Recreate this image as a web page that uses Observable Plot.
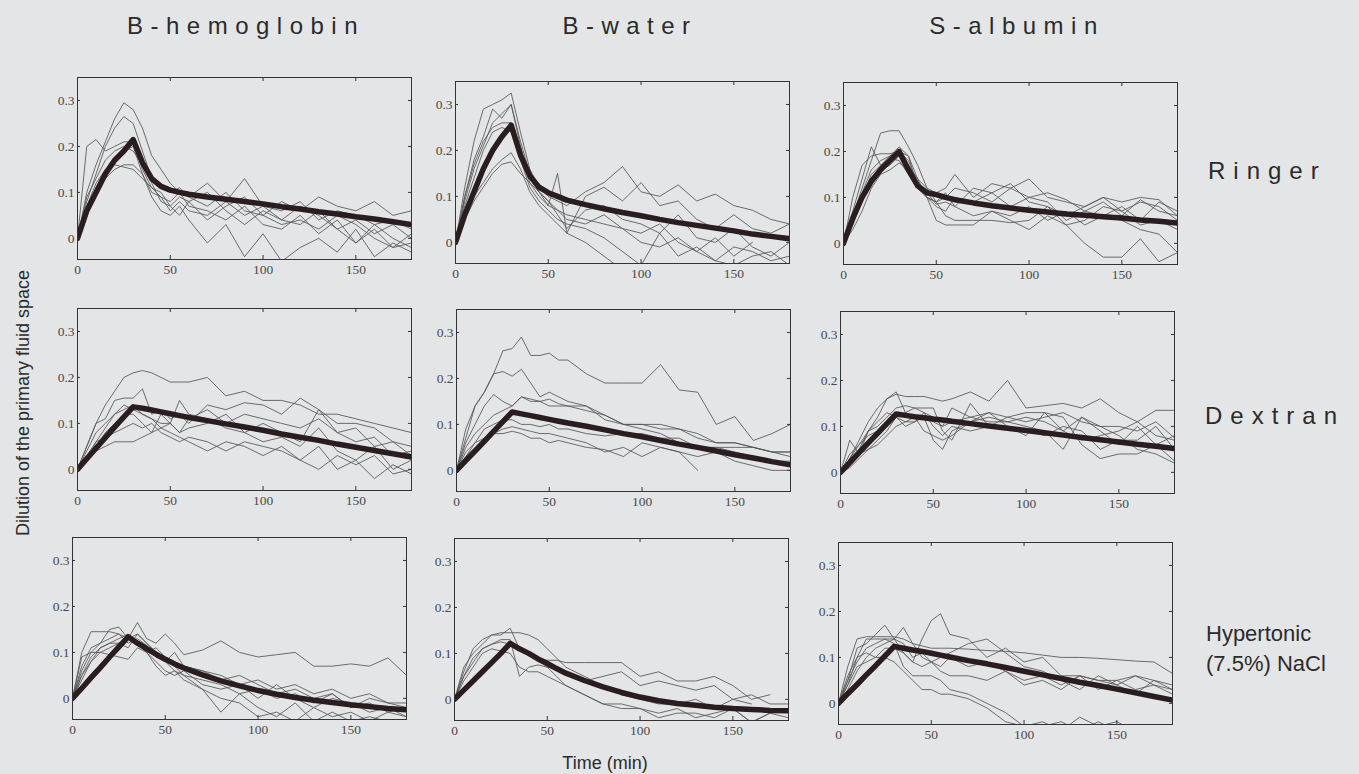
<!DOCTYPE html>
<html><head><meta charset="utf-8">
<script src="https://cdn.jsdelivr.net/npm/d3@7"></script>
<script src="https://cdn.jsdelivr.net/npm/@observablehq/plot@0.6"></script>
<style>
html,body{margin:0;padding:0;background:#e4e5e7;}
#page{position:relative;width:1359px;height:774px;overflow:hidden;font-family:"Liberation Sans",Arial,sans-serif;color:#2b2b2b;}
.lbl{position:absolute;white-space:nowrap;line-height:1;}
.ttl{font-size:24px;letter-spacing:7.5px;}
.row{font-size:24px;letter-spacing:8px;}
.panel{position:absolute;}
.panel svg text{font-size:13.5px !important;font-family:"Liberation Serif","DejaVu Serif",serif !important;fill:#4a4a4a;}
</style></head><body><div id="page"></div>
<script>
// ---------- data ----------
const times = [0,5,10,15,20,25,30,35,40,45,50,55,60,70,80,90,100,110,120,130,140,150,160,170,180];
const xTicks = [0,50,100,150];
const yTicks = [0,0.1,0.2,0.3];
const columnTitles = ["B-hemoglobin","B-water","S-albumin"];
const rowTitles = ["Ringer","Dextran","Hypertonic\n(7.5%) NaCl"];
const yLabel = "Dilution of the primary fluid space";
const xLabel = "Time (min)";

// Ringer
const hbRinger = [
 [0,.10,.16,.21,.26,.295,.28,.24,.18,.15,.12,.10,.09,.07,.10,.06,.05,.03,.04,.02,.05,.03,.00,-.02,-.01],
 [0,.08,.14,.20,.24,.265,.25,.19,.13,.11,.10,.11,.09,.12,.08,.13,.07,.06,.08,.04,.06,.05,.03,.04,.02],
 [0,.20,.215,.19,.20,.21,.21,.15,.11,.09,.08,.10,.07,.06,.04,.07,.03,.02,.05,.01,.04,-.01,.02,-.02,.01],
 [0,.06,.11,.15,.17,.19,.20,.14,.09,.06,.05,.07,.04,-.01,.03,-.04,.01,-.05,-.02,.00,-.03,.02,-.04,-.01,-.03],
 [0,.05,.10,.13,.15,.16,.16,.14,.10,.09,.06,.08,.06,.05,.08,.05,.07,.04,.03,.06,.02,.04,.01,.03,.00],
 [0,.07,.12,.15,.16,.155,.15,.13,.11,.10,.07,.05,.08,.10,.06,.03,.06,.04,.07,.05,.02,-.01,.03,.00,-.02],
 [0,.09,.13,.17,.19,.20,.19,.16,.12,.08,.07,.09,.08,.04,.07,.09,.05,.08,.06,.09,.07,.06,.08,.05,.06]
];
const hbRingerModel = [0,.06,.10,.14,.17,.19,.215,.165,.13,.113,.105,.10,.096,.09,.085,.08,.075,.069,.064,.058,.053,.047,.042,.036,.03];

const bwRinger = [
 [0,.12,.22,.29,.30,.31,.325,.24,.16,.12,.10,.09,.08,.11,.13,.165,.11,.10,.125,.09,.105,.08,.07,.05,.04],
 [0,.10,.18,.23,.29,.27,.30,.22,.15,.11,.08,.15,.02,.10,.12,.09,.13,.08,.09,.05,.03,.06,.03,.02,.04],
 [0,.09,.16,.21,.26,.28,.30,.21,.14,.11,.09,.06,.03,.07,.08,.05,.04,.02,.06,.01,.00,.03,-.01,-.03,.00],
 [0,.08,.14,.20,.24,.25,.24,.18,.12,.09,.07,.05,.04,.03,.01,-.02,-.05,.02,-.03,-.01,-.04,-.05,-.03,-.02,-.05],
 [0,.06,.10,.13,.16,.18,.195,.16,.11,.08,.06,.04,.02,.00,-.03,-.06,-.08,-.07,-.06,-.08,-.07,-.06,-.08,-.07,-.06],
 [0,.05,.09,.12,.15,.17,.175,.15,.13,.11,.09,.07,.06,.05,.04,.03,.00,-.01,.01,-.02,-.04,-.01,-.02,-.04,-.03],
 [0,.10,.17,.22,.25,.26,.26,.20,.13,.10,.08,.07,.05,.04,.06,.03,.02,.04,.00,-.02,.01,-.03,.00,null,null]
];
const bwRingerModel = [0,.06,.11,.16,.20,.23,.255,.19,.145,.12,.108,.10,.092,.082,.073,.065,.058,.05,.043,.037,.031,.025,.018,.013,.008];

const saRinger = [
 [0,.06,.12,.18,.24,.245,.245,.21,.17,.12,.09,.06,.05,.05,.05,.045,.05,.08,.04,.00,-.03,-.03,.01,-.04,-.02],
 [0,.07,.14,.21,.17,.19,.21,.19,.14,.12,.11,.12,.15,.10,.13,.12,.14,.10,.09,.08,.10,.09,.10,.095,.06],
 [0,.10,.17,.19,.195,.195,.20,.18,.13,.10,.09,.11,.08,.12,.11,.13,.09,.08,.06,.08,.10,.07,.09,.08,.05],
 [0,.05,.10,.15,.17,.185,.18,.15,.12,.10,.08,.07,.10,.09,.11,.08,.10,.09,.05,.07,.06,.08,.05,.09,.07],
 [0,.03,.07,.12,.15,.16,.175,.16,.13,.11,.085,.09,.08,.06,.07,.06,.08,.05,.07,.04,.06,.05,.03,.02,-.02],
 [0,.04,.09,.14,.16,.17,.19,.17,.14,.10,.05,.04,.04,.04,.07,.05,.03,.06,.04,.05,.08,.07,.04,.05,.03],
 [0,.06,.11,.16,.18,.19,.20,.19,.12,.10,.09,.10,.12,.11,.09,.12,.10,.11,.095,.07,.09,.06,.095,.07,.06]
];
const saRingerModel = [0,.055,.10,.135,.16,.18,.20,.16,.125,.11,.106,.10,.095,.088,.082,.077,.072,.068,.064,.061,.058,.055,.051,.048,.044];

// Dextran
const hbDextran = [
 [0,.05,.10,.14,.17,.20,.21,.215,.21,.20,.19,.19,.19,.20,.16,.17,.15,.15,.14,.12,.12,.11,.10,.09,.08],
 [0,.05,.10,.11,.15,.155,.155,.175,.12,.13,.11,.12,.10,.14,.13,.145,.14,.12,.155,.13,.10,.10,.09,.06,.05],
 [0,.02,.06,.09,.12,.14,.13,.12,.11,.10,.10,.15,.12,.11,.09,.08,.10,.08,.06,.13,.08,.06,.07,.03,.04],
 [0,.02,.05,.08,.10,.12,.12,.10,.08,.12,.10,.08,.09,.10,.12,.08,.06,.07,.05,.09,.04,.02,.05,.00,.02],
 [0,.03,.06,.07,.08,.09,.10,.09,.10,.08,.07,.06,.07,.06,.04,.06,.05,.04,.02,.05,.00,.02,-.02,.01,-.01],
 [0,.02,.04,.05,.06,.06,.06,.07,.08,.09,.08,.07,.06,.04,.06,.05,.03,.05,.02,.00,.03,.01,.03,-.01,.00],
 [0,.04,.08,.10,.12,.13,.14,.12,.11,.09,.10,.08,.11,.13,.10,.12,.11,.10,.09,.11,.08,.09,.05,.06,.03]
];
const hbDextranModel = [0,.023,.046,.069,.092,.114,.136,.133,.129,.125,.121,.117,.113,.106,.099,.092,.085,.077,.070,.063,.055,.048,.041,.034,.027];

const bwDextran = [
 [0,.07,.14,.17,.21,.26,.265,.29,.25,.25,.255,.24,.24,.21,.19,.19,.19,.23,.175,.17,.10,.117,.065,.08,.10],
 [0,.09,.14,.17,.21,.215,.205,.22,.19,.16,.17,.16,.15,.14,.11,.10,.10,.10,.09,.07,.06,.06,.05,.04,.04],
 [0,.06,.10,.14,.165,.15,.14,.16,.155,.15,.14,.14,.14,.14,.12,.10,.09,.08,.06,.05,.05,.04,.03,.02,.02],
 [0,.05,.08,.10,.12,.13,.14,.16,.15,.15,.155,.145,.14,.13,.12,.10,.10,.09,.09,.08,.06,.06,.05,.04,.04],
 [0,.04,.06,.09,.10,.11,.11,.10,.10,.095,.10,.09,.09,.08,.075,.08,.08,.07,.07,.05,.05,.05,.05,.04,.03],
 [0,.03,.05,.07,.08,.09,.095,.09,.085,.08,.08,.075,.07,.06,.04,.05,.03,.05,.04,.00,null,null,null,null,null],
 [0,.03,.06,.07,.08,.08,.085,.08,.07,.07,.06,.065,.06,.05,.045,.03,.06,.05,.04,.03,.04,.02,.01,.00,.00]
];
const bwDextranModel = [0,.021,.042,.063,.085,.106,.127,.123,.119,.115,.111,.107,.103,.096,.088,.080,.073,.065,.057,.050,.042,.034,.027,.019,.012];

const saDextran = [
 [0,.03,.07,.11,.14,.16,.17,.165,.165,.165,.16,.155,.16,.175,.155,.20,.14,.145,.15,.14,.16,.13,.11,.135,.135],
 [0,.07,.04,.09,.12,.16,.175,.13,.14,.13,.12,.10,.14,.12,.13,.12,.11,.12,.13,.11,.10,.10,.09,.11,.075],
 [0,.02,.05,.09,.10,.12,.14,.145,.14,.14,.14,.09,.07,.15,.10,.12,.13,.13,.09,.07,.08,.09,.11,.08,.07],
 [0,.03,.06,.09,.11,.13,.12,.10,.11,.12,.07,.05,.09,.11,.13,.10,.08,.13,.12,.06,.03,.04,.04,.06,.025],
 [0,.01,.03,.05,.07,.09,.12,.13,.12,.09,.08,.07,.08,.11,.12,.11,.10,.09,.05,.12,.09,.06,.10,.06,.08],
 [0,.04,.06,.08,.09,.10,.12,.11,.11,.13,.10,.08,.10,.09,.10,.10,.09,.08,.10,.09,.05,.07,.07,.10,.05],
 [0,.02,.04,.05,.06,.08,.10,.11,.12,.12,.11,.10,.11,.12,.11,.11,.12,.11,.09,.12,.10,.08,.05,.04,.02]
];
const saDextranModel = [0,.021,.043,.064,.085,.106,.127,.124,.121,.119,.116,.114,.111,.106,.101,.096,.091,.086,.081,.076,.071,.066,.061,.057,.052];

// Hypertonic (7.5%) NaCl
const hbHyper = [
 [0,.10,.145,.145,.145,.14,.13,.165,.13,.12,.14,.12,.095,.105,.125,.10,.09,.095,.10,.07,.07,.075,.07,.088,.05],
 [0,.07,.11,.12,.15,.155,.13,.12,.10,.08,.06,.05,.06,.03,.02,.03,.00,.03,.00,-.02,.00,-.01,-.03,-.02,-.04],
 [0,.09,.10,.10,.095,.09,.085,.11,.10,.07,.05,.06,.04,.02,-.03,.01,-.02,-.04,-.01,-.05,-.03,-.05,-.04,-.05,-.05],
 [0,.05,.08,.11,.12,.12,.11,.14,.12,.10,.09,.07,.05,.04,.03,.01,.02,.00,.01,-.01,.01,-.02,-.01,-.03,-.02],
 [0,.06,.10,.12,.13,.14,.12,.13,.115,.09,.08,.10,.07,.06,.04,.05,.03,.01,.02,.00,.01,-.02,.00,-.01,-.02],
 [0,.04,.08,.10,.11,.12,.13,.14,.12,.10,.08,.06,.05,.02,.00,-.01,-.04,-.03,-.05,-.02,-.04,-.03,-.05,-.03,-.04],
 [0,.05,.09,.11,.12,.13,.14,.12,.10,.11,.09,.08,.07,.06,.05,.03,.04,.02,.03,.01,.02,.00,.01,-.01,-.01]
];
const hbHyperModel = [0,.022,.045,.067,.09,.112,.134,.12,.108,.096,.085,.075,.066,.051,.038,.027,.017,.009,.002,-.004,-.009,-.014,-.018,-.022,-.025];

const bwHyper = [
 [0,.06,.11,.13,.14,.145,.145,.145,.14,.13,.11,.09,.07,.05,.03,.01,.00,-.01,-.01,.00,-.02,.00,-.01,null,null],
 [0,.07,.10,.12,.14,.14,.155,.11,.10,.09,.085,.085,.08,.08,.08,.08,.05,.06,.04,.04,.05,.03,.00,.01,null],
 [0,.05,.08,.11,.12,.13,.13,.05,.07,.075,.07,.065,.06,.04,.05,.06,.03,.04,.03,.02,.03,.00,.01,-.01,-.01],
 [0,.04,.07,.10,.11,.105,.10,.07,.06,.06,.05,.04,.03,.01,-.01,-.01,-.02,-.04,-.03,-.03,-.04,-.02,-.05,-.03,-.04],
 [0,.05,.09,.11,.12,.125,.12,.11,.10,.085,.07,.05,.03,.01,-.01,-.02,-.02,-.03,-.02,-.04,-.03,-.02,-.05,-.03,-.02]
];
const bwHyperModel = [0,.02,.04,.06,.08,.10,.122,.11,.10,.088,.078,.067,.057,.041,.027,.015,.005,-.003,-.009,-.013,-.017,-.02,-.022,-.024,-.025];

const saHyper = [
 [0,.08,.14,.145,.145,.145,.145,.14,.13,.125,.12,.12,.12,.118,.115,.113,.11,.105,.10,.10,.098,.095,.092,.09,.065],
 [0,.05,.12,.13,.15,.17,.14,.11,.09,.14,.18,.195,.15,.14,.10,.12,.09,.10,.06,.06,.05,.05,.06,.05,.04],
 [0,.06,.10,.14,.14,.14,.14,.165,.13,.10,.09,.10,.11,.13,.14,.11,.08,.07,.05,.03,.06,.04,.02,.05,.03],
 [0,.04,.10,.11,.10,.10,.09,.07,.05,.03,.03,.02,.02,.01,-.01,-.04,-.05,-.05,-.04,-.06,-.04,-.06,-.05,-.06,-.07],
 [0,.05,.09,.12,.13,.14,.13,.08,.06,.06,.06,.05,.03,.02,.00,-.02,-.05,-.04,-.06,-.03,-.05,-.04,-.06,-.06,-.07],
 [0,.03,.07,.10,.12,.13,.14,.13,.10,.11,.09,.08,.10,.08,.09,.07,.05,.06,.04,.06,.05,.04,.06,.04,.03],
 [0,.04,.08,.09,.10,.12,.12,.11,.09,.08,.09,.07,.06,.06,.05,.07,.04,.05,.03,.06,.03,.05,.03,.04,.02]
];
const saHyperModel = [0,.021,.041,.062,.082,.103,.124,.12,.116,.113,.109,.105,.101,.093,.086,.078,.070,.062,.054,.046,.039,.031,.023,.015,.007];

// ---------- layout (not data) ----------
const grid = [
  [hbRinger, hbRingerModel, bwRinger, bwRingerModel, saRinger, saRingerModel],
  [hbDextran, hbDextranModel, bwDextran, bwDextranModel, saDextran, saDextranModel],
  [hbHyper, hbHyperModel, bwHyper, bwHyperModel, saHyper, saHyperModel]
];
const frameLeft = [[77,455,843],[77,456,840],[72,454,838]];
const frameTop = [[77,81,82],[308,309,311],[537,538,542]];
const FW = 334, FH = 182;
const ML = 34, MR = 6, MT = 6, MB = 26;
const xDomain = [0,180], yDomain = [-0.046,0.35];

const page = document.getElementById("page");

function panel(obs, model) {
  const rows = [];
  obs.forEach((s, i) => s.forEach((v, j) => { if (v != null) rows.push({t: times[j], v, id: i}); }));
  const m = model.map((v, j) => ({t: times[j], v}));
  return Plot.plot({
    width: FW + ML + MR, height: FH + MT + MB,
    marginLeft: ML, marginRight: MR, marginTop: MT, marginBottom: MB,
    style: {background: "transparent", fontFamily: "'Liberation Serif', 'DejaVu Serif', serif", fontSize: "13.5px", color: "#4a4a4a", overflow: "visible"},
    x: {domain: xDomain, ticks: xTicks, tickSize: 0, tickPadding: 5, label: null},
    y: {domain: yDomain, ticks: yTicks, tickSize: 0, tickPadding: 3, label: null,
        tickFormat: d => d === 0 ? "0" : d3.format(".1f")(d)},
    marks: [
      Plot.lineY(rows, {x: "t", y: "v", z: "id", stroke: "#555", strokeWidth: 0.85, clip: true}),
      Plot.lineY(m, {x: "t", y: "v", stroke: "#2a1d20", strokeWidth: 5.5, strokeLinejoin: "round", clip: true}),
      Plot.tickX(xTicks, {x: d => d, insetTop: FH - 4, stroke: "#333"}),
      Plot.tickX(xTicks, {x: d => d, insetBottom: FH - 4, stroke: "#333"}),
      Plot.tickY(yTicks, {y: d => d, insetRight: FW - 3, stroke: "#333"}),
      Plot.tickY(yTicks, {y: d => d, insetLeft: FW - 3, stroke: "#333"}),
      Plot.frame({stroke: "#333", strokeWidth: 1})
    ]
  });
}

grid.forEach((row, r) => {
  for (let c = 0; c < 3; c++) {
    const svg = panel(row[c*2], row[c*2+1]);
    const wrap = document.createElement("div");
    wrap.className = "panel";
    wrap.style.left = (frameLeft[r][c] - ML) + "px";
    wrap.style.top = (frameTop[r][c] - MT) + "px";
    wrap.appendChild(svg);
    page.appendChild(wrap);
  }
});

function label(text, cls, css) {
  const d = document.createElement("div");
  d.className = "lbl " + cls;
  d.textContent = text;
  Object.assign(d.style, css);
  page.appendChild(d);
  return d;
}
const titleCenters = [246, 630, 1017];
columnTitles.forEach((t, i) => {
  label(t, "ttl", {left: titleCenters[i] + "px", top: "14px", transform: "translateX(-50%)"});
});
label(rowTitles[0], "row", {left: "1208px", top: "159px"});
label(rowTitles[1], "row", {left: "1205px", top: "404px"});
label(rowTitles[2], "", {left: "1206px", top: "619px", fontSize: "22px", lineHeight: "30px", whiteSpace: "pre"});
label(yLabel, "", {left: "23px", top: "403px", fontSize: "18px", transform: "translate(-50%,-50%) rotate(-90deg)"});
label(xLabel, "", {left: "605px", top: "754px", fontSize: "18px", transform: "translateX(-50%)"});
</script></body></html>
